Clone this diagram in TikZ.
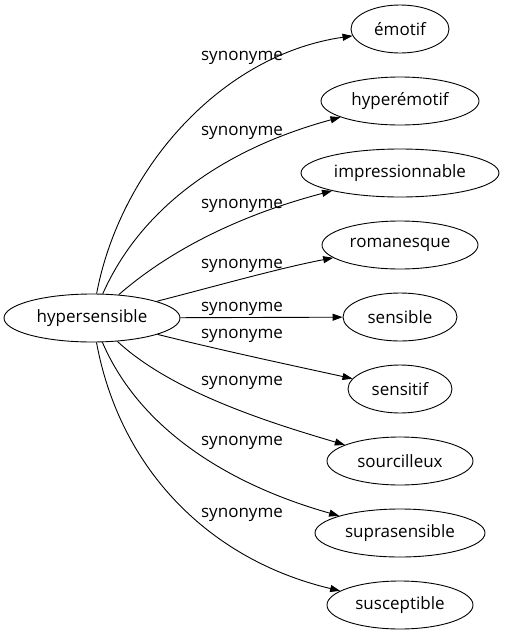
\documentclass[tikz,border=0pt]{standalone}
\usepackage{fontspec}
\setmainfont{Open Sans}
\usepackage{tikz}
\usetikzlibrary{shapes.geometric, arrows.meta, positioning, calc}
\tikzstyle{word} = [ellipse, draw=black, line width=0.9pt, inner sep=0pt, minimum height=48pt, font=\fontsize{17pt}{19pt}\selectfont]
\tikzstyle{arrow} = [line width=0.9pt, -{Triangle[length=10pt, width=7pt]}]
\tikzstyle{rel} = [font=\fontsize{17pt}{19pt}\selectfont, inner sep=0pt]
\usepackage{xcolor}

\begin{document}
\begin{tikzpicture}[x=1pt, y=-1pt]
    \useasboundingbox (0,0) rectangle (505,635);

    \node (hyper) [word, minimum width=176pt] at (92,318) {hypersensible};

    \node (w1) [word, minimum width=98pt] at (400,29) {émotif};
    \node (w2) [word, minimum width=158pt] at (400,101) {hyperémotif};
    \node (w3) [word, minimum width=198pt] at (400,173) {impressionnable};
    \node (w4) [word, minimum width=156pt] at (400,245) {romanesque};
    \node (w5) [word, minimum width=114pt] at (400,317) {sensible};
    \node (w6) [word, minimum width=104pt] at (400,389) {sensitif};
    \node (w7) [word, minimum width=146pt] at (400,461) {sourcilleux};
    \node (w8) [word, minimum width=170pt] at (400,533) {suprasensible};
    \node (w9) [word, minimum width=146pt] at (400,605) {susceptible};

    \node (l1) [rel] at (242,58) {synonyme};
    \node (l2) [rel] at (242,133) {synonyme};
    \node (l3) [rel] at (242,206) {synonyme};
    \node (l4) [rel] at (242,266) {synonyme};
    \node (l5) [rel] at (242,309) {synonyme};
    \node (l6) [rel] at (242,336) {synonyme};
    \node (l7) [rel] at (242,383) {synonyme};
    \node (l8) [rel] at (242,443) {synonyme};
    \node (l9) [rel] at (242,515) {synonyme};

    \draw [arrow] (hyper) .. controls (120,170) and (220,55) .. (w1);
    \draw [arrow] (hyper) .. controls (140,210) and (220,150) .. (w2);
    \draw [arrow] (hyper) .. controls (170,250) and (240,215) .. (w3);
    \draw [arrow] (hyper) .. controls (220,285) and (280,268) .. (w4);
    \draw [arrow] (hyper) -- (w5);
    \draw [arrow] (hyper) .. controls (220,350) and (290,365) .. (w6);
    \draw [arrow] (hyper) .. controls (170,390) and (260,420) .. (w7);
    \draw [arrow] (hyper) .. controls (140,430) and (230,485) .. (w8);
    \draw [arrow] (hyper) .. controls (120,470) and (210,560) .. (w9);
\end{tikzpicture}
\end{document}
